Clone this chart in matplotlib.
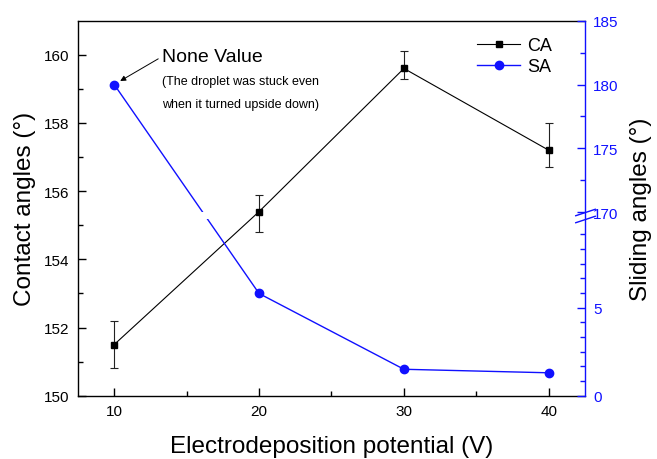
import numpy as np
import matplotlib
matplotlib.use("Agg")
import matplotlib.pyplot as plt
import matplotlib.transforms as mtransforms
from matplotlib.path import Path

plt.rcParams['font.family'] = ['Liberation Sans', 'DejaVu Sans']

# data
potential = [10, 20, 30, 40]
ca = [151.5, 155.4, 159.6, 157.2]
ca_err_low = [0.7, 0.6, 0.3, 0.5]
ca_err_high = [0.7, 0.5, 0.5, 0.8]
sa = [180.0, 5.8, 1.5, 1.3]

sa_major = [0, 5, 170, 175, 180, 185]
sa_minor = [k * 5 / 6 for k in range(1, 12) if k != 6] + [172.5, 177.5, 182.5]

# broken right axis: 0-10 below, 170-185 above
LO, HI = 10.0, 170.0
GAP = 0.42
K = 0.724


def fwd(y):
    y = np.asarray(y, dtype=float)
    mid = LO + (y - LO) / (HI - LO) * GAP
    return np.where(y <= LO, y, np.where(y >= HI, LO + GAP + (y - HI) * K, mid))


def inv(u):
    u = np.asarray(u, dtype=float)
    mid = LO + (u - LO) / GAP * (HI - LO)
    return np.where(u <= LO, u, np.where(u >= LO + GAP, HI + (u - LO - GAP) / K, mid))


blue = '#1010ff'
fig = plt.figure(figsize=(6.57, 4.6), dpi=100)
ax = fig.add_axes([0.1187, 0.1376, 0.7717, 0.8152])

ca_plot = ax.errorbar(potential, ca, yerr=[ca_err_low, ca_err_high], color='black',
                      marker='s', ms=5, lw=0.8, capsize=3, elinewidth=0.8,
                      capthick=0.8, ecolor='#222222', label='CA')
ax.set_xlim(7.5, 42.5)
ax.set_ylim(150, 161)
ax.set_xticks([10, 20, 30, 40])
ax.set_xticks([15, 25, 35], minor=True)
ax.set_yticks(range(150, 161, 2))
ax.set_yticks(range(151, 161, 2), minor=True)
ax.tick_params(which='both', direction='in', top=False, right=False,
               labelsize=11, width=1, pad=6)
ax.tick_params(which='major', length=6)
ax.tick_params(which='minor', length=3.5)
ax.spines['right'].set_visible(False)
for s in ['left', 'bottom', 'top']:
    ax.spines[s].set_linewidth(1)
ax.set_xlabel('Electrodeposition potential (V)', fontsize=17.5, labelpad=12)
ax.set_ylabel('Contact angles (°)', fontsize=17.5, labelpad=6)

ax2 = ax.twinx()
ax2.set_yscale('function', functions=(fwd, inv))
ax2.set_ylim(0, 185)
sa_line, = ax2.plot(potential, sa, color=blue, marker='o', ms=6, lw=1, label='SA')
verts = [(0, -20), (60, -20), (60, LO), (0, LO), (0, -20),
         (0, HI), (60, HI), (60, 260), (0, 260), (0, HI)]
codes = [Path.MOVETO, Path.LINETO, Path.LINETO, Path.LINETO, Path.CLOSEPOLY] * 2
sa_line.set_clip_path(Path(verts, codes), ax2.transData)

ax2.set_yticks(sa_major)
ax2.set_yticks(sa_minor, minor=True)
ax2.tick_params(which='both', direction='in', colors=blue, labelsize=11, width=1, pad=6)
ax2.tick_params(which='major', length=6)
ax2.tick_params(which='minor', length=3.5)
ax2.spines['right'].set_color(blue)
ax2.spines['right'].set_linewidth(1)
for s in ['left', 'bottom', 'top']:
    ax2.spines[s].set_visible(False)
ax2.set_ylabel('Sliding angles (°)', fontsize=17.5, color='black', labelpad=8)

# break marks on the right axis
brk = mtransforms.blended_transform_factory(ax2.transAxes, ax2.transData)
ax2.plot([1, 1], [LO, HI], transform=brk, linestyle='none',
         marker=[(-1, -0.33), (1, 0.33)], ms=15, mec=blue, mew=1, clip_on=False)

# annotation for the stuck droplet
ax2.annotate('None Value', xy=(10, 180), xytext=(48, 28), textcoords='offset pixels',
             fontsize=14, ha='left', va='center',
             arrowprops=dict(arrowstyle='-|>', color='black', lw=0.7, mutation_scale=8,
                             relpos=(0, 0.5), shrinkA=1, shrinkB=5))
ax2.annotate('(The droplet was stuck even', xy=(10, 180), xytext=(48, 4),
             textcoords='offset pixels', fontsize=9, ha='left', va='center')
ax2.annotate('when it turned upside down)', xy=(10, 180), xytext=(48, -19),
             textcoords='offset pixels', fontsize=9, ha='left', va='center')

ax2.legend([ca_plot[0], sa_line], ['CA', 'SA'], loc='upper left',
           bbox_to_anchor=(0.755, 1.0), frameon=False, fontsize=13,
           handlelength=2.4, labelspacing=0.25, handletextpad=0.4)

fig.savefig('out.png', dpi=100)
